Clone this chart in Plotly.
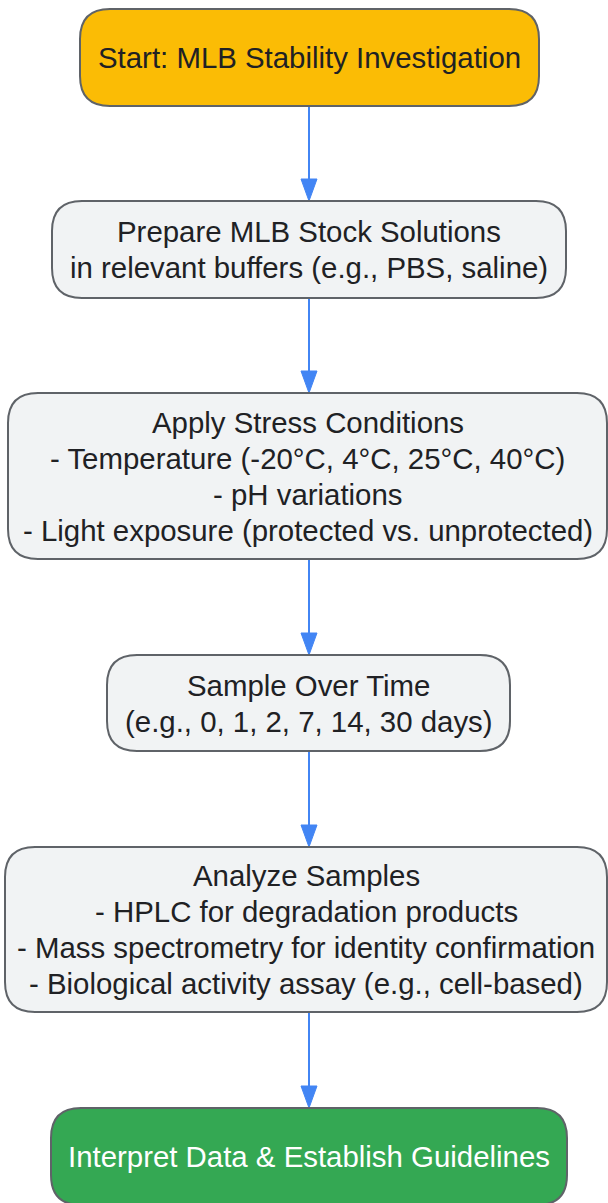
import plotly.graph_objects as go

# ---- data ----
node_labels = [
    ["Start: MLB Stability Investigation"],
    ["Prepare MLB Stock Solutions", "in relevant buffers (e.g., PBS, saline)"],
    ["Apply Stress Conditions", "- Temperature (-20°C, 4°C, 25°C, 40°C)", "- pH variations",
     "- Light exposure (protected vs. unprotected)"],
    ["Sample Over Time", "(e.g., 0, 1, 2, 7, 14, 30 days)"],
    ["Analyze Samples", "- HPLC for degradation products", "- Mass spectrometry for identity confirmation",
     "- Biological activity assay (e.g., cell-based)"],
    ["Interpret Data & Establish Guidelines"],
]
node_kinds = ["start", "step", "step", "step", "step", "end"]
edges = [(0, 1), (1, 2), (2, 3), (3, 4), (4, 5)]

# ---- layout / style ----
W, H = 608, 1203
boxes = [  # x0, x1, y0, y1 (pixels, y down)
    (80, 539, 9, 106),
    (52, 566, 201, 298),
    (8, 607, 393, 559),
    (107, 510, 655, 751),
    (5, 607, 847, 1012),
    (51, 567, 1108, 1205),
]
fills = {"start": "#FBBC05", "step": "#F1F3F4", "end": "#34A853"}
text_colors = {"start": "#202124", "step": "#202124", "end": "#FFFFFF"}
border = "#5F6368"
arrow_color = "#4285F4"
font_family = "Arial, Liberation Sans, sans-serif"
font_size = 29.4
line_gap = 36
radius = 30


def rounded_path(x0, x1, y0, y1, r):
    return (f"M {x0+r},{y0} L {x1-r},{y0} Q {x1},{y0} {x1},{y0+r} "
            f"L {x1},{y1-r} Q {x1},{y1} {x1-r},{y1} L {x0+r},{y1} "
            f"Q {x0},{y1} {x0},{y1-r} L {x0},{y0+r} Q {x0},{y0} {x0+r},{y0} Z")


fig = go.Figure()
shapes = []
annotations = []

for (a, b) in edges:
    xa0, xa1, ya0, ya1 = boxes[a]
    xb0, xb1, yb0, yb1 = boxes[b]
    xc = 309
    head_len, head_w = 22, 8
    shapes.append(dict(type="line", x0=xc, x1=xc, y0=ya1, y1=yb0 - head_len + 2,
                       line=dict(color=arrow_color, width=2), xref="x", yref="y"))
    shapes.append(dict(type="path",
                       path=f"M {xc-head_w},{yb0-head_len} L {xc+head_w},{yb0-head_len} L {xc},{yb0} Z",
                       fillcolor=arrow_color, line=dict(color=arrow_color, width=1), xref="x", yref="y"))

for i, lines in enumerate(node_labels):
    x0, x1, y0, y1 = boxes[i]
    kind = node_kinds[i]
    shapes.append(dict(type="path", path=rounded_path(x0, x1, y0, y1, radius),
                       fillcolor=fills[kind], line=dict(color=border, width=2),
                       xref="x", yref="y", layer="above"))
    yc = (y0 + min(y1, 1204)) / 2
    n = len(lines)
    for j, t in enumerate(lines):
        y = yc + (j - (n - 1) / 2) * line_gap
        annotations.append(dict(x=(x0 + x1) / 2, y=y, text=t, showarrow=False,
                                xref="x", yref="y", xanchor="center", yanchor="middle",
                                font=dict(family=font_family, size=font_size, color=text_colors[kind])))

fig.update_layout(
    width=W, height=H,
    margin=dict(l=0, r=0, t=0, b=0),
    paper_bgcolor="white", plot_bgcolor="white",
    xaxis=dict(range=[0, W], visible=False, fixedrange=True),
    yaxis=dict(range=[H, 0], visible=False, fixedrange=True),
    shapes=shapes, annotations=annotations, showlegend=False,
)
fig.write_html("out.html", post_script="document.body.style.margin='0';",
               config={"displayModeBar": False})
